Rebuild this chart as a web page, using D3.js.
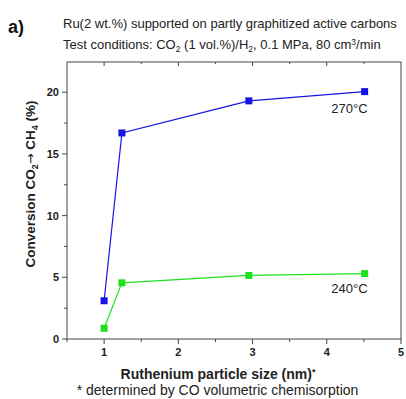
<!DOCTYPE html>
<html>
<head>
<meta charset="utf-8">
<script src="https://cdn.jsdelivr.net/npm/d3@7"></script>
<style>
  html, body { margin: 0; padding: 0; background: #fff; }
  svg { display: block; font-family: "Liberation Sans", Arial, sans-serif; }
</style>
</head>
<body>
<svg id="chart" width="406" height="399"></svg>
<script>
// Ruthenium particle size (nm) for each catalyst
const particleSize = [1.0, 1.24, 2.95, 4.51];
// CO2 -> CH4 conversion (%) at two reaction temperatures
const conv270 = [3.1, 16.7, 19.3, 20.05];
const conv240 = [0.87, 4.55, 5.15, 5.3];
const seriesNames = ["270°C", "240°C"];
const xTicks = [1, 2, 3, 4, 5];
const yTicks = [0, 5, 10, 15, 20];

const svg = d3.select("#chart");
const m = { left: 67, right: 401, top: 62, bottom: 339 };

const x = d3.scaleLinear().domain([0.5, 5]).range([m.left, m.right]);
const y = d3.scaleLinear().domain([0, 22.45]).range([m.bottom, m.top]);

const axisColor = "#444";

// frame
svg.append("rect")
  .attr("x", m.left).attr("y", m.top)
  .attr("width", m.right - m.left).attr("height", m.bottom - m.top)
  .attr("fill", "none").attr("stroke", axisColor).attr("stroke-width", 1);

// bottom axis: major + minor ticks
const xMinor = d3.range(0.5, 5.01, 0.5);
const gx = svg.append("g").attr("transform", `translate(0,${m.bottom})`);
gx.selectAll("line.t").data(xMinor).join("line")
  .attr("x1", d => x(d)).attr("x2", d => x(d))
  .attr("y1", 0).attr("y2", d => Number.isInteger(d) ? 5 : 3)
  .attr("stroke", axisColor);
gx.selectAll("text").data(xTicks).join("text")
  .attr("x", d => x(d)).attr("y", 17)
  .attr("text-anchor", "middle")
  .attr("font-size", 11).attr("font-weight", "bold").attr("fill", "#222")
  .text(d => d);

// top axis ticks pointing inward
svg.append("g").selectAll("line").data(xMinor.filter(d => d > 0.5 && d < 5)).join("line")
  .attr("x1", d => x(d)).attr("x2", d => x(d))
  .attr("y1", m.top).attr("y2", d => m.top + (Number.isInteger(d) ? 4 : 2))
  .attr("stroke", axisColor);

// left axis
const yMinor = d3.range(0, 22.5, 2.5);
const gy = svg.append("g").attr("transform", `translate(${m.left},0)`);
gy.selectAll("line").data(yMinor).join("line")
  .attr("x1", d => yTicks.includes(d) ? -5 : -3).attr("x2", 0)
  .attr("y1", d => y(d)).attr("y2", d => y(d))
  .attr("stroke", axisColor);
gy.selectAll("text").data(yTicks).join("text")
  .attr("x", -8).attr("y", d => y(d) + 4)
  .attr("text-anchor", "end")
  .attr("font-size", 11).attr("font-weight", "bold").attr("fill", "#222")
  .text(d => d);

// series
const series = [
  { name: seriesNames[0], values: conv270, color: "#1414e6", label: [4.51, 18.3] },
  { name: seriesNames[1], values: conv240, color: "#1fe01f", label: [4.51, 3.7] }
];
const line = d3.line().x(d => x(d[0])).y(d => y(d[1]));
series.forEach(s => {
  const pts = particleSize.map((p, i) => [p, s.values[i]]);
  svg.append("path").datum(pts)
    .attr("d", line).attr("fill", "none")
    .attr("stroke", s.color).attr("stroke-width", 1.2);
  svg.append("g").selectAll("rect").data(pts).join("rect")
    .attr("x", d => x(d[0]) - 3.5).attr("y", d => y(d[1]) - 3.5)
    .attr("width", 7).attr("height", 7)
    .attr("fill", s.color);
  svg.append("text")
    .attr("x", x(s.label[0]) + 3).attr("y", y(s.label[1]))
    .attr("text-anchor", "end")
    .attr("font-size", 13).attr("fill", "#222")
    .text(s.name);
});

// panel letter and heading
svg.append("text").attr("x", 8).attr("y", 33)
  .attr("font-size", 18).attr("font-weight", "bold").attr("fill", "#111").text("a)");
svg.append("text").attr("x", 63).attr("y", 28)
  .attr("font-size", 13).attr("fill", "#222")
  .text("Ru(2 wt.%) supported on partly graphitized active carbons");
const sub = svg.append("text").attr("x", 63).attr("y", 49)
  .attr("font-size", 13).attr("fill", "#222");
sub.append("tspan").text("Test conditions: CO");
sub.append("tspan").attr("dy", 3).attr("font-size", 8.5).text("2");
sub.append("tspan").attr("dy", -3).text(" (1 vol.%)/H");
sub.append("tspan").attr("dy", 3).attr("font-size", 8.5).text("2");
sub.append("tspan").attr("dy", -3).text(", 0.1 MPa, 80 cm");
sub.append("tspan").attr("dy", -4).attr("font-size", 8.5).text("3");
sub.append("tspan").attr("dy", 4).text("/min");

// y axis title
const yt = svg.append("text")
  .attr("transform", `translate(35,184) rotate(-90)`)
  .attr("text-anchor", "middle")
  .attr("font-size", 13.5).attr("font-weight", "bold").attr("fill", "#222");
yt.append("tspan").text("Conversion CO");
yt.append("tspan").attr("dy", 3).attr("font-size", 9).text("2");
yt.append("tspan").attr("dy", -3).attr("font-family", "DejaVu Sans")
  .attr("font-weight", "normal").attr("font-size", 13).text("\u2192");
yt.append("tspan").text(" CH");
yt.append("tspan").attr("dy", 3).attr("font-size", 9).text("4");
yt.append("tspan").attr("dy", -3).text(" (%)");

// x axis title and footnote
const xt = svg.append("text").attr("x", 218).attr("y", 379)
  .attr("text-anchor", "middle")
  .attr("font-size", 14).attr("font-weight", "bold").attr("fill", "#222");
xt.append("tspan").text("Ruthenium particle size (nm)");
xt.append("tspan").attr("dy", -4).attr("font-size", 9).text("*");
svg.append("text").attr("x", 217.5).attr("y", 395)
  .attr("text-anchor", "middle")
  .attr("font-size", 14).attr("fill", "#222")
  .text("* determined by CO volumetric chemisorption");
</script>
</body>
</html>
